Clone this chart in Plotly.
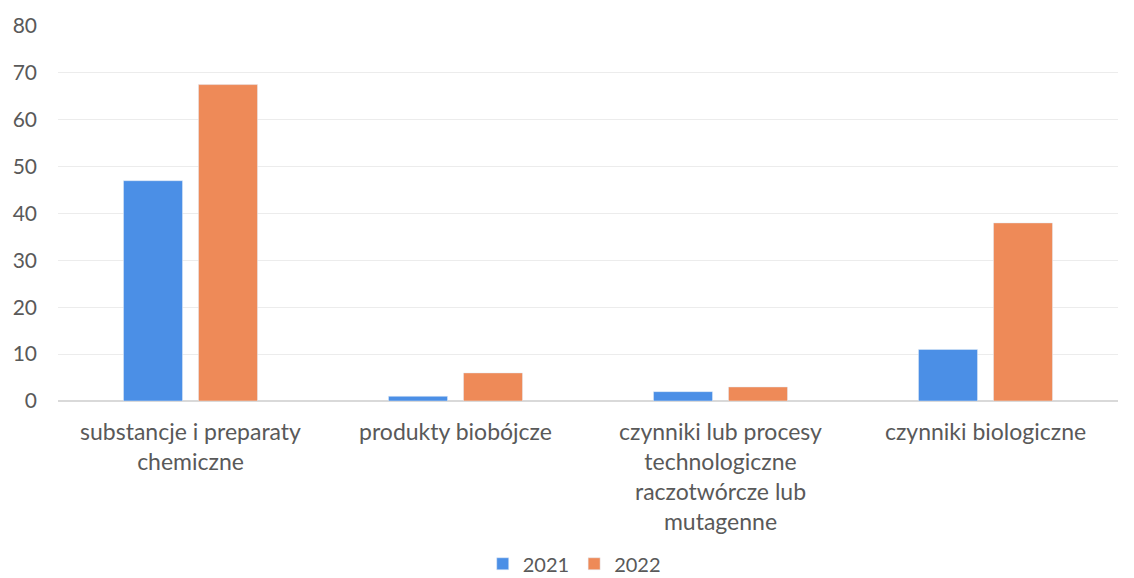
import plotly.graph_objects as go

categories = [
    "substancje i preparaty<br>chemiczne",
    "produkty biobójcze",
    "czynniki lub procesy<br>technologiczne<br>raczotwórcze lub<br>mutagenne",
    "czynniki biologiczne",
]
values_2021 = [47, 1, 2, 11]
values_2022 = [67.5, 6, 3, 38]
y_ticks = [0, 10, 20, 30, 40, 50, 60, 70, 80]

fig = go.Figure()
fig.add_trace(go.Bar(name="2021", x=categories, y=values_2021, marker_color="#4B8FE6"))
fig.add_trace(go.Bar(name="2022", x=categories, y=values_2022, marker_color="#EE8A58"))

font_fam = "Lato, Open Sans, sans-serif"
fig.update_layout(
    width=1126, height=570,
    margin=dict(l=50, r=16, t=18, b=177, autoexpand=False),
    paper_bgcolor="white", plot_bgcolor="white",
    barmode="group", bargap=0.434, bargroupgap=0.213,
    font=dict(family=font_fam, size=21, color="#595959"),
    legend=dict(orientation="h", x=0.487, xanchor="center", yref="container", y=0.025,
                yanchor="middle", font=dict(size=20, color="#595959"), itemwidth=30,
                traceorder="normal"),
    xaxis=dict(showline=False, showgrid=False, ticks="", automargin=False,
               tickfont=dict(size=23, color="#595959"), ticklabelstandoff=15),
    yaxis=dict(range=[0, 80], tickvals=y_ticks, showgrid=True, gridcolor="#ececec",
               zeroline=True, zerolinecolor="#d9d9d9", ticks="", showline=False, automargin=False,
               tickfont=dict(size=21, color="#595959"), ticklabelstandoff=20),
)
fig.write_html("out.html")
